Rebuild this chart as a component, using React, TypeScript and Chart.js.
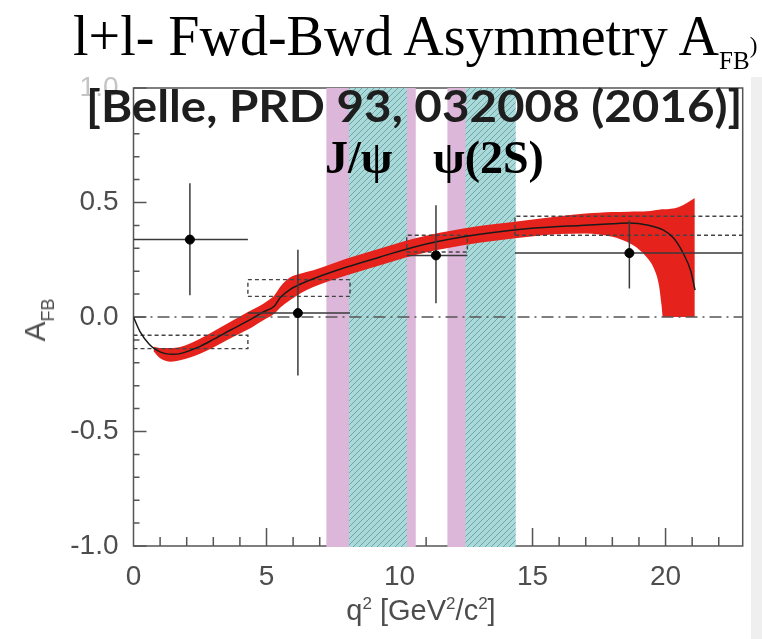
import React, { useEffect, useRef } from "react";
import { Chart, registerables } from "chart.js";

Chart.register(...registerables);

// ---------- axis ranges & tick labels ----------
const X_MIN = 0;
const X_MAX = 22.9;
const Y_MIN = -1;
const Y_MAX = 1;
const xTickLabels = [0, 5, 10, 15, 20];
const yTickLabels = [-1.0, -0.5, 0.0, 0.5, 1.0];

// ---------- Belle measurement (points with error bars) ----------
const binLo = [0.0, 4.3, 10.27, 14.34];
const binHi = [4.3, 8.14, 12.55, 22.9];
const dataX = [2.12, 6.18, 11.37, 18.64];
const dataY = [0.338, 0.017, 0.269, 0.279];
const errUp = [0.246, 0.277, 0.219, 0.143];
const errDn = [0.243, 0.272, 0.209, 0.155];

// ---------- SM binned prediction (dashed boxes) ----------
const smLo = [-0.138, 0.09, 0.284, 0.357];
const smHi = [-0.08, 0.163, 0.357, 0.44];

// ---------- SM theory curve (black) ----------
const curveX = [0, 0.25, 0.6, 0.87, 1.2, 1.5, 1.75, 2.5, 3.0, 3.63, 4.3, 4.88, 5.3, 5.51, 5.88, 6.3, 6.76, 8.02, 9.27, 10.52, 12.4, 14.78, 16.8, 18.0, 18.64, 19.3, 19.92, 20.3, 20.67, 20.95, 21.11];
const curveY = [0, -0.065, -0.12, -0.145, -0.16, -0.163, -0.16, -0.128, -0.098, -0.058, -0.017, 0.022, 0.048, 0.084, 0.12, 0.145, 0.167, 0.218, 0.262, 0.305, 0.35, 0.385, 0.4, 0.407, 0.41, 0.402, 0.379, 0.345, 0.277, 0.2, 0.117];

// ---------- SM theory uncertainty band (red) ----------
const bandX = [0.75, 1.0, 1.4, 1.75, 2.5, 3.0, 3.63, 4.3, 4.88, 5.1, 5.3, 5.51, 5.88, 6.3, 6.76, 8.02, 9.27, 10.52, 12.4, 14.78, 16.0, 17.0, 17.5, 18.0, 18.6, 19.0, 19.3, 19.55, 19.75, 19.85, 19.9, 20.5, 21.1];
const bandUp = [-0.13, -0.135, -0.135, -0.131, -0.095, -0.063, -0.022, 0.022, 0.058, 0.075, 0.095, 0.131, 0.172, 0.19, 0.204, 0.255, 0.299, 0.342, 0.386, 0.422, 0.44, 0.452, 0.455, 0.458, 0.46, 0.461, 0.462, 0.465, 0.468, 0.47, 0.47, 0.48, 0.52];
const bandLo = [-0.15, -0.18, -0.195, -0.189, -0.16, -0.133, -0.094, -0.055, -0.014, 0.0, 0.015, 0.04, 0.073, 0.105, 0.131, 0.182, 0.226, 0.269, 0.313, 0.349, 0.362, 0.365, 0.36, 0.35, 0.325, 0.295, 0.26, 0.215, 0.14, 0.05, 0.0, 0.0, 0.0];

// ---------- charmonium veto regions ----------
const vetoPinkLo = [7.25, 11.8];
const vetoPinkHi = [10.61, 12.5];
const vetoHatchLo = [8.1, 12.48];
const vetoHatchHi = [10.28, 14.37];

const PINK = "#dcb7da";
const RED = "#e5231c";

function makeHatch(ctx: CanvasRenderingContext2D) {
  const c = document.createElement("canvas");
  c.width = 6;
  c.height = 6;
  const g = c.getContext("2d")!;
  g.fillStyle = "#aad9da";
  g.fillRect(0, 0, 6, 6);
  g.strokeStyle = "#6fa5a7";
  g.lineWidth = 1;
  g.beginPath();
  g.moveTo(-1, 7);
  g.lineTo(7, -1);
  g.moveTo(-4, 4);
  g.lineTo(4, -4);
  g.moveTo(2, 10);
  g.lineTo(10, 2);
  g.stroke();
  return ctx.createPattern(c, "repeat");
}

const framePlugin = {
  id: "rootFrame",
  beforeDatasetsDraw(chart: any) {
    const { ctx, chartArea: a, scales } = chart;
    const xs = scales.x;
    const ys = scales.y;
    ctx.save();
    ctx.strokeStyle = "#555";
    ctx.lineWidth = 1.5;
    ctx.strokeRect(a.left, a.top, a.right - a.left, a.bottom - a.top);
    ctx.beginPath();
    for (let i = -10; i <= 10; i++) {
      const v = i / 10;
      const py = ys.getPixelForValue(v);
      const len = i % 5 === 0 ? 13 : 6;
      ctx.moveTo(a.left, py);
      ctx.lineTo(a.left + len, py);
    }
    for (let v = 1; v <= 22; v++) {
      const px = xs.getPixelForValue(v);
      const len = v % 5 === 0 ? 18 : 9;
      ctx.moveTo(px, a.bottom);
      ctx.lineTo(px, a.bottom - len);
    }
    ctx.stroke();
    ctx.fillStyle = PINK;
    for (let i = 0; i < vetoPinkLo.length; i++) {
      const x0 = xs.getPixelForValue(vetoPinkLo[i]);
      const x1 = xs.getPixelForValue(vetoPinkHi[i]);
      ctx.fillRect(x0, a.top, x1 - x0, a.bottom - a.top + 1);
    }
    const pat = makeHatch(ctx);
    ctx.fillStyle = pat || "#aad9da";
    for (let i = 0; i < vetoHatchLo.length; i++) {
      const x0 = xs.getPixelForValue(vetoHatchLo[i]);
      const x1 = xs.getPixelForValue(vetoHatchHi[i]);
      ctx.fillRect(x0, a.top, x1 - x0, a.bottom - a.top + 1);
    }
    ctx.restore();
  },
};

function buildErrorBars() {
  const pts: any[] = [];
  for (let i = 0; i < dataX.length; i++) {
    pts.push({ x: binLo[i], y: dataY[i] }, { x: binHi[i], y: dataY[i] }, { x: binHi[i], y: null });
    pts.push({ x: dataX[i], y: dataY[i] - errDn[i] }, { x: dataX[i], y: dataY[i] + errUp[i] }, { x: dataX[i] + 0.01, y: null });
  }
  return pts;
}

function buildBoxes() {
  const pts: any[] = [];
  for (let i = 0; i < smLo.length; i++) {
    pts.push(
      { x: binLo[i], y: smLo[i] },
      { x: binHi[i], y: smLo[i] },
      { x: binHi[i], y: smHi[i] },
      { x: binLo[i], y: smHi[i] },
      { x: binLo[i], y: smLo[i] },
      { x: binLo[i], y: null }
    );
  }
  return pts;
}

export default function App() {
  const ref = useRef<HTMLCanvasElement | null>(null);

  useEffect(() => {
    if (!ref.current) return;
    const font = { family: "'Liberation Sans', Arial, sans-serif", size: 28 };
    const chart = new Chart(ref.current, {
      type: "line",
      data: {
        datasets: [
          {
            label: "data",
            data: dataX.map((x, i) => ({ x, y: dataY[i] })),
            showLine: false,
            pointRadius: 4.5,
            pointBackgroundColor: "#000",
            pointBorderColor: "#000",
            order: 0,
          },
          {
            label: "errors",
            data: buildErrorBars(),
            borderColor: "#3a3a3a",
            borderWidth: 1.5,
            pointRadius: 0,
            spanGaps: false,
            order: 1,
          },
          {
            label: "SM curve",
            data: curveX.map((x, i) => ({ x, y: curveY[i] })),
            borderColor: "#1a1a1a",
            borderWidth: 1.5,
            pointRadius: 0,
            cubicInterpolationMode: "monotone",
            order: 2,
          },
          {
            label: "SM bins",
            data: buildBoxes(),
            borderColor: "#444",
            borderWidth: 1.4,
            borderDash: [4, 3],
            pointRadius: 0,
            spanGaps: false,
            order: 3,
          },
          {
            label: "zero",
            data: [
              { x: X_MIN, y: 0 },
              { x: X_MAX, y: 0 },
            ],
            borderColor: "#555",
            borderWidth: 1.3,
            borderDash: [12, 5, 2, 5],
            pointRadius: 0,
            order: 4,
          },
          {
            label: "band lo",
            data: bandX.map((x, i) => ({ x, y: bandLo[i] })),
            borderWidth: 0,
            borderColor: "rgba(0,0,0,0)",
            pointRadius: 0,
            cubicInterpolationMode: "monotone",
            order: 5,
          },
          {
            label: "band up",
            data: bandX.map((x, i) => ({ x, y: bandUp[i] })),
            borderWidth: 0,
            borderColor: "rgba(0,0,0,0)",
            backgroundColor: RED,
            pointRadius: 0,
            cubicInterpolationMode: "monotone",
            fill: { target: 5 },
            order: 5,
          },
        ],
      },
      options: {
        responsive: false,
        animation: false,
        events: [],
        layout: { padding: { top: 88, right: 19.3, left: 0, bottom: 0 } },
        plugins: { legend: { display: false }, tooltip: { enabled: false } },
        scales: {
          x: {
            type: "linear",
            min: X_MIN,
            max: X_MAX,
            grid: { display: false, drawTicks: false },
            border: { display: false },
            afterFit: (s: any) => {
              s.height = 93;
            },
            afterBuildTicks: (s: any) => {
              s.ticks = xTickLabels.map((v) => ({ value: v }));
            },
            ticks: {
              color: "#4d4d4d",
              font,
              padding: 14,
              maxRotation: 0,
              autoSkip: false,
              callback: (v: any) => String(v),
            },
          },
          y: {
            type: "linear",
            min: Y_MIN,
            max: Y_MAX,
            grid: { display: false, drawTicks: false },
            border: { display: false },
            afterFit: (s: any) => {
              s.width = 133.5;
            },
            afterBuildTicks: (s: any) => {
              s.ticks = yTickLabels.map((v) => ({ value: v }));
            },
            ticks: {
              color: (c: any) => (c.tick && c.tick.value === 1 ? "#c4c4c4" : "#4d4d4d"),
              font,
              padding: 15,
              autoSkip: false,
              callback: (v: any) => Number(v).toFixed(1),
            },
          },
        },
      },
      plugins: [framePlugin],
    } as any);
    return () => chart.destroy();
  }, []);

  const gray = "#4d4d4d";
  const serif = "'Liberation Serif', 'Times New Roman', serif";
  return (
    <div style={{ position: "fixed", left: 0, top: 0, width: 762, height: 639, background: "#fff", overflow: "hidden" }}>
      <canvas ref={ref} width={762} height={639} style={{ position: "absolute", left: 0, top: 0 }} />
      <div style={{ position: "absolute", left: 751, top: 77, width: 11, height: 562, background: "#efefef" }} />
      {/* main title */}
      <div
        style={{
          position: "absolute",
          left: 73,
          top: 8,
          fontFamily: serif,
          fontSize: 56,
          lineHeight: "56px",
          whiteSpace: "nowrap",
          color: "#000",
        }}
      >
        l+l- Fwd-Bwd Asymmetry A
        <span style={{ fontSize: 25, position: "relative", top: 14 }}>FB</span>
        <span style={{ fontSize: 23, position: "relative", top: -2 }}>)</span>
      </div>
      {/* citation */}
      <div
        style={{
          position: "absolute",
          left: 86,
          top: 80,
          fontFamily: "Lato, 'Open Sans', sans-serif",
          fontWeight: 700,
          fontSize: 44,
          lineHeight: "50px",
          whiteSpace: "nowrap",
          color: "#1e1e1e",
          transform: "scaleX(1.08)",
          transformOrigin: "0 0",
        }}
      >
        [Belle, PRD 93, 032008 (2016)]
      </div>
      {/* resonance labels */}
      <div
        style={{
          position: "absolute",
          left: 325,
          top: 133,
          fontFamily: serif,
          fontWeight: 700,
          fontSize: 46,
          lineHeight: "50px",
          whiteSpace: "nowrap",
          color: "#000",
        }}
      >
        J/ψ
      </div>
      <div
        style={{
          position: "absolute",
          left: 433,
          top: 133,
          fontFamily: serif,
          fontWeight: 700,
          fontSize: 46,
          lineHeight: "50px",
          whiteSpace: "nowrap",
          color: "#000",
        }}
      >
        ψ(2S)
      </div>
      {/* y axis title */}
      <div
        style={{
          position: "absolute",
          left: 37,
          top: 320,
          transform: "translate(-50%, -50%) rotate(-90deg)",
          fontFamily: "'Liberation Sans', Arial, sans-serif",
          fontSize: 30,
          lineHeight: "32px",
          whiteSpace: "nowrap",
          color: gray,
        }}
      >
        A<span style={{ fontSize: 18, position: "relative", top: 9 }}>FB</span>
      </div>
      {/* x axis title */}
      <div
        style={{
          position: "absolute",
          left: 421,
          top: 587,
          transform: "translateX(-50%)",
          fontFamily: "'Liberation Sans', Arial, sans-serif",
          fontSize: 29,
          lineHeight: "34px",
          whiteSpace: "nowrap",
          color: gray,
        }}
      >
        q<sup style={{ fontSize: 17 }}>2</sup> [GeV<sup style={{ fontSize: 17 }}>2</sup>/c<sup style={{ fontSize: 17 }}>2</sup>]
      </div>
    </div>
  );
}
